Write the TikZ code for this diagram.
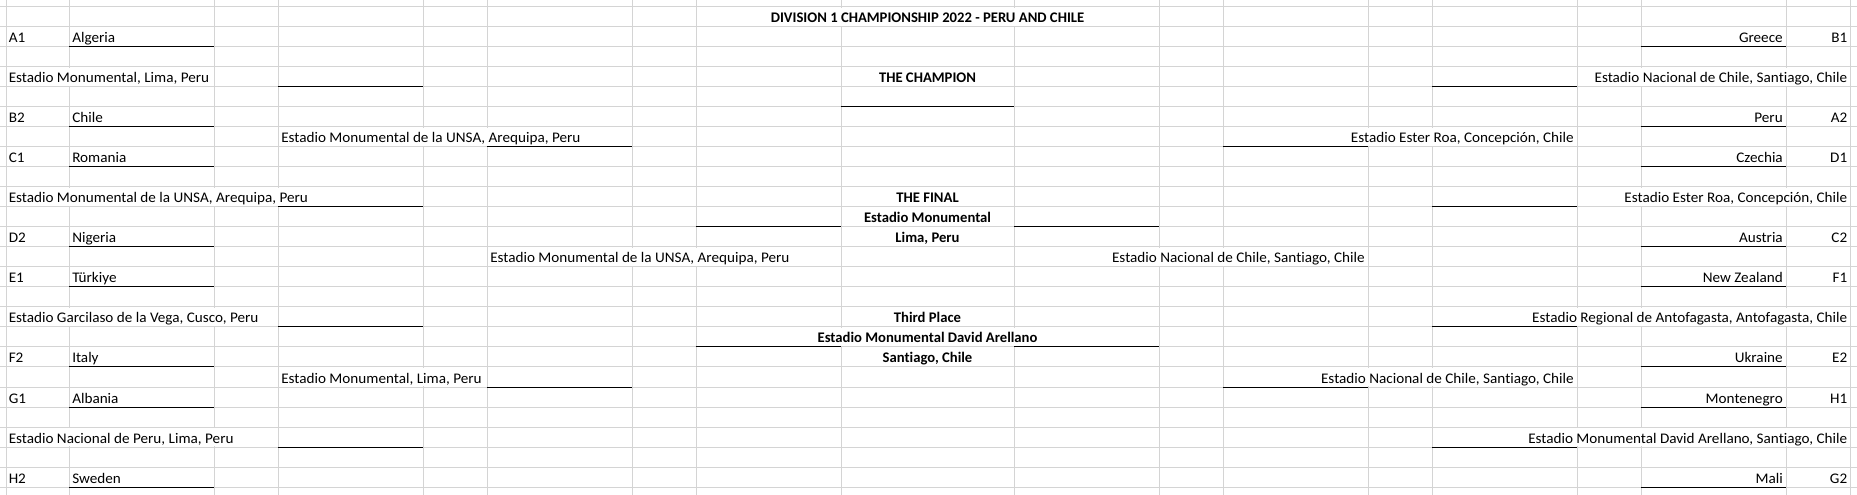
\documentclass[tikz,border=0pt]{standalone}
\usepackage{fontspec}
\setmainfont{Carlito}[Ligatures=NoCommon]
\newfontfamily\cellfont{Carlito}[FakeStretch=1.035, Ligatures=NoCommon]
\newfontfamily\headfont{Carlito}[Ligatures=NoCommon]
\usepackage{xcolor}
\definecolor{gridgray}{RGB}{212,212,212}

\begin{document}
\begin{tikzpicture}[
        x=0.75pt, y=-0.75pt,
        gridline/.style={draw=gridgray, line width=0.75pt},
        border/.style={draw=black, line width=0.75pt},
        lefttxt/.style={anchor=base west, inner sep=0pt, font=\cellfont\fontsize{11}{13}\selectfont},
        righttxt/.style={anchor=base east, inner sep=0pt, font=\cellfont\fontsize{11}{13}\selectfont},
        headtxt/.style={anchor=base, inner sep=0pt, font=\headfont\fontsize{11}{13}\selectfont\bfseries}, ]

        % === SHEET GRID ===
        \fill[white] (0,0) rectangle (1857,495);
        \useasboundingbox (0,0) rectangle (1857,495);
        \foreach \x in {6,69,214,278,423,487,632,696,841,1014,1159,1223,1368,1432,1577,1641,1786,1850}
            \draw[gridline] (\x,0) -- (\x,495);
        \foreach \r in {0,...,24}
            \draw[gridline] (0,{7+20*\r}) -- (1857,{7+20*\r});

        % gridlines hidden under overflowing text
        \foreach \r/\x in {0/841, 0/1014, 3/69, 9/69, 9/214, 9/278, 15/69, 15/214, 21/69, 21/214,
                6/423, 6/487, 18/423, 12/632, 12/696, 16/841, 16/1014, 12/1159, 12/1223,
                6/1368, 6/1432, 18/1368, 18/1432, 3/1641, 3/1786, 9/1641, 9/1786,
                15/1577, 15/1641, 15/1786, 21/1577, 21/1641, 21/1786}
            \fill[white] ({\x-1},{7.6+20*\r}) rectangle ({\x+1},{26.4+20*\r});

        % === TITLE ===
        \node[headtxt] (title) at (927.5,23) {DIVISION 1 CHAMPIONSHIP 2022 - PERU AND CHILE};

        % === LEFT HALF ===
        \foreach \r/\code/\team in {1/A1/Algeria, 5/B2/Chile, 7/C1/Romania, 11/D2/Nigeria,
                13/E1/Türkiye, 17/F2/Italy, 19/G1/Albania, 23/H2/Sweden} {
                \node[lefttxt] (code\code) at (8.5,{23+20*\r}) {\code};
                \node[lefttxt] (team\code) at (72,{23+20*\r}) {\team};
                \draw[border] (69,{27+20*\r}) -- (214,{27+20*\r});
            }
        \foreach \r/\venue [count=\i] in {3/{Estadio Monumental, Lima, Peru},
                9/{Estadio Monumental de la UNSA, Arequipa, Peru},
                15/{Estadio Garcilaso de la Vega, Cusco, Peru},
                21/{Estadio Nacional de Peru, Lima, Peru}} {
                \node[lefttxt] (rsL\i) at (8.5,{23+20*\r}) {\venue};
                \draw[border] (278,{27+20*\r}) -- (423,{27+20*\r});
            }
        \foreach \r/\venue [count=\i] in {6/{Estadio Monumental de la UNSA, Arequipa, Peru},
                18/{Estadio Monumental, Lima, Peru}} {
                \node[lefttxt] (qfL\i) at (281,{23+20*\r}) {\venue};
                \draw[border] (487,{27+20*\r}) -- (632,{27+20*\r});
            }
        \node[lefttxt] (sfL) at (490,263) {Estadio Monumental de la UNSA, Arequipa, Peru};

        % === RIGHT HALF ===
        \foreach \r/\code/\team in {1/B1/Greece, 5/A2/Peru, 7/D1/Czechia, 11/C2/Austria,
                13/F1/New Zealand, 17/E2/Ukraine, 19/H1/Montenegro, 23/G2/Mali} {
                \node[righttxt] (code\code) at (1847.5,{23+20*\r}) {\code};
                \node[righttxt] (team\code) at (1783,{23+20*\r}) {\team};
                \draw[border] (1641,{27+20*\r}) -- (1786,{27+20*\r});
            }
        \foreach \r/\venue [count=\i] in {3/{Estadio Nacional de Chile, Santiago, Chile},
                9/{Estadio Ester Roa, Concepción, Chile},
                15/{Estadio Regional de Antofagasta, Antofagasta, Chile},
                21/{Estadio Monumental David Arellano, Santiago, Chile}} {
                \node[righttxt] (rsR\i) at (1847.5,{23+20*\r}) {\venue};
                \draw[border] (1432,{27+20*\r}) -- (1577,{27+20*\r});
            }
        \foreach \r/\venue [count=\i] in {6/{Estadio Ester Roa, Concepción, Chile},
                18/{Estadio Nacional de Chile, Santiago, Chile}} {
                \node[righttxt] (qfR\i) at (1574,{23+20*\r}) {\venue};
                \draw[border] (1223,{27+20*\r}) -- (1368,{27+20*\r});
            }
        \node[righttxt] (sfR) at (1365,263) {Estadio Nacional de Chile, Santiago, Chile};

        % === CENTRE ===
        \node[headtxt] (champ) at (927.5,83) {THE CHAMPION};
        \draw[border] (841,107) -- (1014,107);

        \node[headtxt] (final) at (927.5,203) {THE FINAL};
        \node[headtxt] (finalvenue) at (927.5,223) {Estadio Monumental};
        \node[headtxt] (finalcity) at (927.5,243) {Lima, Peru};
        \draw[border] (696,227) -- (841,227);
        \draw[border] (1014,227) -- (1159,227);

        \node[headtxt] (third) at (927.5,323) {Third Place};
        \node[headtxt] (thirdvenue) at (927.5,343) {Estadio Monumental David Arellano};
        \node[headtxt] (thirdcity) at (927.5,363) {Santiago, Chile};
        \draw[border] (696,347) -- (841,347);
        \draw[border] (1014,347) -- (1159,347);
    \end{tikzpicture}
\end{document}
